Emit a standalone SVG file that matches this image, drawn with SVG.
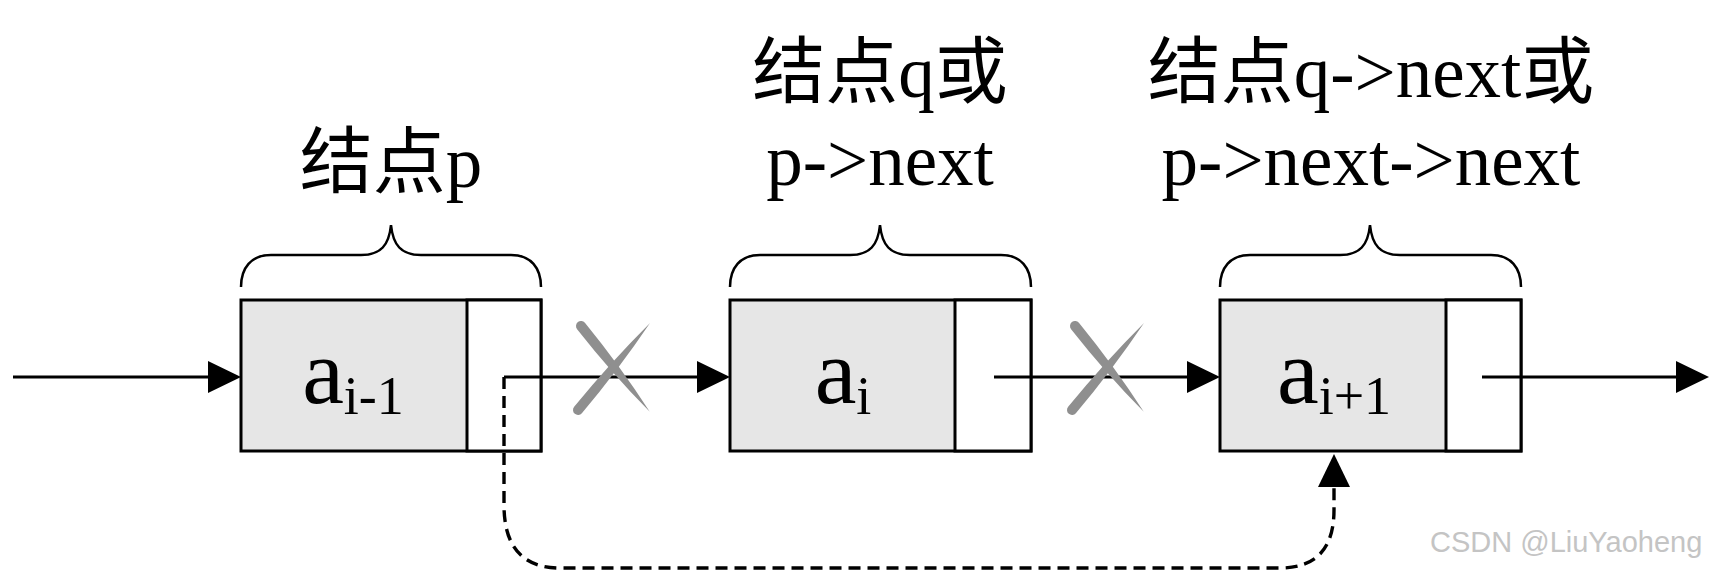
<svg xmlns="http://www.w3.org/2000/svg" width="1722" height="572" viewBox="0 0 1722 572">
<style>
.box{fill:#e6e6e6;stroke:#000;stroke-width:3}
.ptr{fill:#fff;stroke:#000;stroke-width:3}
.val{font-family:"Liberation Serif","Times New Roman",serif;font-size:94px;fill:#000;text-anchor:middle}
.sub{font-size:54px}
.lbl{font-family:"Liberation Serif","Noto Sans CJK SC",serif;font-size:73px;fill:#000;text-anchor:middle}
.brace{fill:none;stroke:#000;stroke-width:2.5}
.conn{fill:none;stroke:#000;stroke-width:3}
.dash{stroke-width:3.4;stroke-dasharray:12 7}
.xmark{fill:#8f8f8f}
.wm{font-family:"Liberation Sans",Arial,sans-serif;font-size:29px;fill:#c4c4c4}
</style>
<defs>
<marker id="arr" markerUnits="userSpaceOnUse" markerWidth="34" markerHeight="32" viewBox="0 0 34 32" refX="1" refY="16" orient="auto">
<path d="M0,0 L33,16 L0,32 Z" fill="#000" stroke="none"/>
</marker>
<g id="cross">
<path class="xmark" transform="translate(-37,-50) rotate(51.3)" d="M0,-5 Q55,-5.5 110,0 Q55,5.5 0,5 A5,5 0 0 1 0,-5 Z"/>
<path class="xmark" transform="translate(-40,34) rotate(-50.4)" d="M0,-5 Q56,-5.5 113,0 Q56,5.5 0,5 A5,5 0 0 1 0,-5 Z"/>
</g>
</defs>
<rect width="1722" height="572" fill="#fff"/>

<g id="node-p">
<rect class="box" x="241" y="300" width="300" height="151"/>
<rect class="ptr" x="467" y="300" width="74" height="151"/>
<text class="val" x="353" y="403">a<tspan class="sub" dy="11">i-1</tspan></text>
<path class="brace" d="M241,287 C241,268 251,255 271,255 L361,255 C381,255 389,245 391,225 C393,245 401,255 421,255 L511,255 C531,255 541,268 541,287"/>
<text class="lbl" x="391" y="187">结点p</text>
</g>

<g id="node-q">
<rect class="box" x="730" y="300" width="301" height="151"/>
<rect class="ptr" x="955" y="300" width="76" height="151"/>
<text class="val" x="843" y="403">a<tspan class="sub" dy="11">i</tspan></text>
<path class="brace" d="M730,287 C730,268 740,255 760,255 L850,255 C870,255 878,245 880,225 C882,245 890,255 910,255 L1001,255 C1021,255 1031,268 1031,287"/>
<text class="lbl" x="880" y="97">结点q或</text>
<text class="lbl" x="880" y="185">p-&gt;next</text>
</g>

<g id="node-next">
<rect class="box" x="1220" y="300" width="301" height="151"/>
<rect class="ptr" x="1446" y="300" width="75" height="151"/>
<text class="val" x="1334" y="403">a<tspan class="sub" dy="11">i+1</tspan></text>
<path class="brace" d="M1220,287 C1220,268 1230,255 1250,255 L1340,255 C1360,255 1368,245 1370,225 C1372,245 1380,255 1400,255 L1491,255 C1511,255 1521,268 1521,287"/>
<text class="lbl" x="1371" y="97">结点q-&gt;next或</text>
<text class="lbl" x="1371" y="185">p-&gt;next-&gt;next</text>
</g>

<g id="connectors">
<path class="conn" d="M13,377 H209" marker-end="url(#arr)"/>
<path class="conn" d="M504,377 H698" marker-end="url(#arr)"/>
<path class="conn" d="M994,377 H1188" marker-end="url(#arr)"/>
<path class="conn" d="M1482,377 H1677" marker-end="url(#arr)"/>
<path class="conn dash" d="M504,377 V505 Q504,568 560,568 H1280 Q1334,568 1334,510 V486" marker-end="url(#arr)"/>
<use href="#cross" transform="translate(618,376)"/>
<use href="#cross" transform="translate(1112,376)"/>
</g>

<text class="wm" x="1430" y="552">CSDN @LiuYaoheng</text>
</svg>
